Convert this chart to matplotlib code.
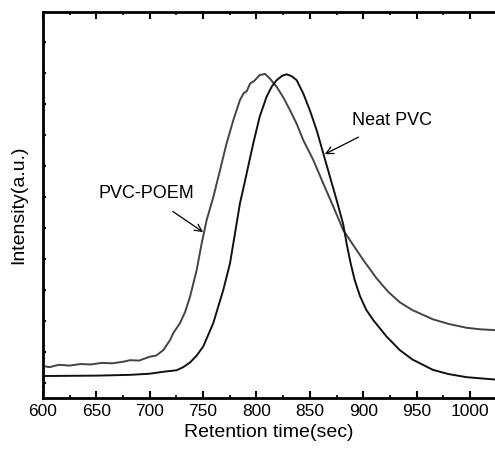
import numpy as np
import matplotlib
matplotlib.use('Agg')
import matplotlib.pyplot as plt
from matplotlib.ticker import MultipleLocator, FixedLocator

# Neat PVC trace (retention time in s, intensity a.u.)
neat_t = [600, 650, 681.5, 700, 712.7, 725.2, 731.4, 737.7, 744, 750.2, 759.5,
          768.9, 775.2, 779.9, 784.5, 790.8, 797, 803, 809.5, 814.5, 819,
          824, 828.3, 833, 837.6, 843.9, 850, 856.4, 862.6, 868.9, 875.1,
          881.3, 884.5, 888, 892, 897, 903, 909.4, 922, 934.4, 946, 965.3,
          980, 996.9, 1023]
neat_i = [0.057, 0.058, 0.060, 0.063, 0.068, 0.072, 0.080, 0.092, 0.110,
          0.134, 0.194, 0.280, 0.349, 0.427, 0.504, 0.582, 0.660, 0.729,
          0.781, 0.808, 0.824, 0.835, 0.839, 0.834, 0.824, 0.789, 0.746,
          0.694, 0.634, 0.573, 0.513, 0.450, 0.400, 0.352, 0.306, 0.264,
          0.228, 0.202, 0.159, 0.124, 0.100, 0.073, 0.062, 0.054, 0.048]

# PVC-POEM trace
poem_t = [600, 606, 615, 625, 635, 645, 655, 665, 675, 681.5, 690, 700, 706,
          712.7, 719, 722, 728.3, 733, 737.7, 744, 748.6, 753.3, 759.5, 765.8,
          772, 778.3, 784.5, 788, 790.8, 794, 798, 803, 808, 812.6, 819, 825,
          831.4, 837.6, 843.9, 853.2, 862.6, 872, 881.3, 887.6, 900, 912.6,
          923.5, 934.4, 946, 965.3, 980, 996.9, 1010, 1023]
poem_i = [0.083, 0.080, 0.086, 0.084, 0.088, 0.087, 0.091, 0.090, 0.094,
          0.098, 0.097, 0.107, 0.110, 0.124, 0.150, 0.168, 0.194, 0.222,
          0.262, 0.332, 0.400, 0.461, 0.520, 0.590, 0.660, 0.720, 0.772,
          0.790, 0.795, 0.815, 0.822, 0.837, 0.840, 0.828, 0.806, 0.780,
          0.746, 0.711, 0.668, 0.617, 0.556, 0.496, 0.435, 0.409, 0.358,
          0.310, 0.275, 0.248, 0.228, 0.204, 0.192, 0.182, 0.178, 0.176]

plt.rcParams['font.family'] = ['Liberation Sans', 'DejaVu Sans']

fig = plt.figure(figsize=(4.95, 4.51), dpi=100)
ax = fig.add_axes([0.0869, 0.1175, 0.9131, 0.8555])

ax.plot(poem_t, poem_i, color='#444444', lw=1.4)
ax.plot(neat_t, neat_i, color='#111111', lw=1.4)

ax.annotate('PVC-POEM', xy=(750, 0.430), xytext=(696.5, 0.531),
            fontsize=13, ha='center', va='center',
            arrowprops=dict(arrowstyle='->', color='black', lw=0.9,
                            shrinkA=9, shrinkB=0))
ax.annotate('Neat PVC', xy=(864, 0.632), xytext=(927, 0.72),
            fontsize=13, ha='center', va='center',
            arrowprops=dict(arrowstyle='->', color='black', lw=0.9,
                            shrinkA=9, shrinkB=0))

ax.set_xlim(600, 1023.5)
ax.set_ylim(0, 1)
ax.xaxis.set_major_locator(MultipleLocator(50))
ax.xaxis.set_minor_locator(MultipleLocator(25))
ax.yaxis.set_major_locator(FixedLocator(np.arange(0.039, 1.0, 0.0803)))
ax.set_yticklabels([])

ax.tick_params(axis='x', which='major', direction='in', length=5, width=1.5,
               labelsize=12.5, top=True, pad=4)
ax.tick_params(axis='x', which='minor', direction='in', length=2, width=1.2,
               top=True)
ax.tick_params(axis='y', which='major', direction='in', length=2.5, width=1.5,
               right=False)

for side in ['left', 'bottom', 'top']:
    ax.spines[side].set_linewidth(2)
ax.spines['right'].set_visible(False)

ax.set_xlabel('Retention time(sec)', fontsize=14, labelpad=4)
ax.set_ylabel('Intensity(a.u.)', fontsize=14, labelpad=8)

fig.savefig('out.png', dpi=100)
